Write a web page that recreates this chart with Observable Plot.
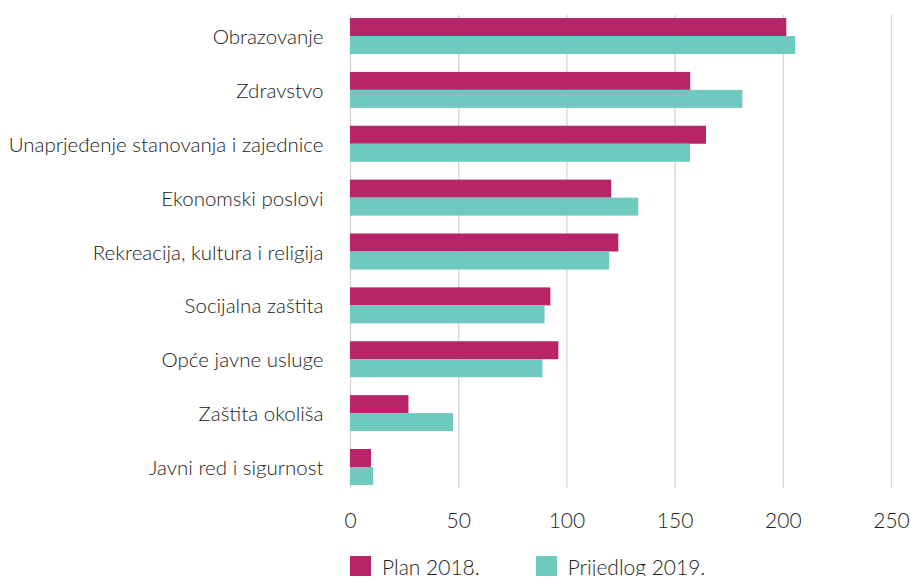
<!DOCTYPE html>
<html>
<head>
<meta charset="utf-8">
<script src="https://cdn.jsdelivr.net/npm/d3@7"></script>
<script src="https://cdn.jsdelivr.net/npm/@observablehq/plot@0.6"></script>
<style>
  body { margin: 0; background: #fff; }
  #wrap { width: 911px; font-family: Lato, sans-serif; font-weight: 300; color: #222; }
  .legend { display: flex; align-items: center; margin-left: 350px; margin-top: 10px; font-size: 21px; height: 20px; }
  .item { display: flex; align-items: center; }
  .sw { width: 21px; height: 20px; margin-right: 11px; }
</style>
</head>
<body>
<div id="wrap"></div>
<script>
const categories = [
  "Obrazovanje",
  "Zdravstvo",
  "Unaprjeđenje stanovanja i zajednice",
  "Ekonomski poslovi",
  "Rekreacija, kultura i religija",
  "Socijalna zaštita",
  "Opće javne usluge",
  "Zaštita okoliša",
  "Javni red i sigurnost"
];
const plan2018 = [201.6, 157.2, 164.5, 120.7, 124.0, 92.6, 96.3, 27.0, 9.7];
const prijedlog2019 = [205.7, 181.3, 157.1, 133.2, 119.8, 89.9, 88.9, 47.6, 10.7];
const xTicks = [0, 50, 100, 150, 200, 250];
const seriesNames = ["Plan 2018.", "Prijedlog 2019."];
const seriesColors = ["#B72467", "#6EC9BF"];

const rows = categories.map((c, i) => ({cat: c, plan: plan2018[i], prij: prijedlog2019[i]}));

const chart = Plot.plot({
  width: 911,
  height: 546,
  marginLeft: 350,
  marginRight: 20,
  marginTop: 15,
  marginBottom: 58,
  style: {fontFamily: "Lato, sans-serif", fontWeight: 300, fontSize: "21px", color: "#222", background: "#fff"},
  x: {domain: [0, 250], label: null},
  y: {domain: categories, paddingInner: 0.332, paddingOuter: 0.056, round: false, label: null},
  marks: [
    Plot.gridX(xTicks, {stroke: "#d4d4d4", strokeOpacity: 1, strokeWidth: 1.3}),
    Plot.barX(rows, {x: "plan", y: "cat", fill: seriesColors[0], insetBottom: 18}),
    Plot.barX(rows, {x: "prij", y: "cat", fill: seriesColors[1], insetTop: 18}),
    Plot.axisX({ticks: xTicks, tickSize: 0, tickPadding: 25, tickFormat: d => String(d)}),
    Plot.axisY({tickSize: 0, tickPadding: 27, fontSize: 20.5, dy: 1})
  ]
});

const wrap = document.getElementById("wrap");
wrap.appendChild(chart);
const legend = document.createElement("div");
legend.className = "legend";
seriesNames.forEach((n, i) => {
  const it = document.createElement("div");
  it.className = "item";
  if (i > 0) it.style.marginLeft = "56px";
  const sw = document.createElement("span");
  sw.className = "sw";
  sw.style.background = seriesColors[i];
  const t = document.createElement("span");
  t.textContent = n;
  it.appendChild(sw);
  it.appendChild(t);
  legend.appendChild(it);
});
wrap.appendChild(legend);
</script>
</body>
</html>
